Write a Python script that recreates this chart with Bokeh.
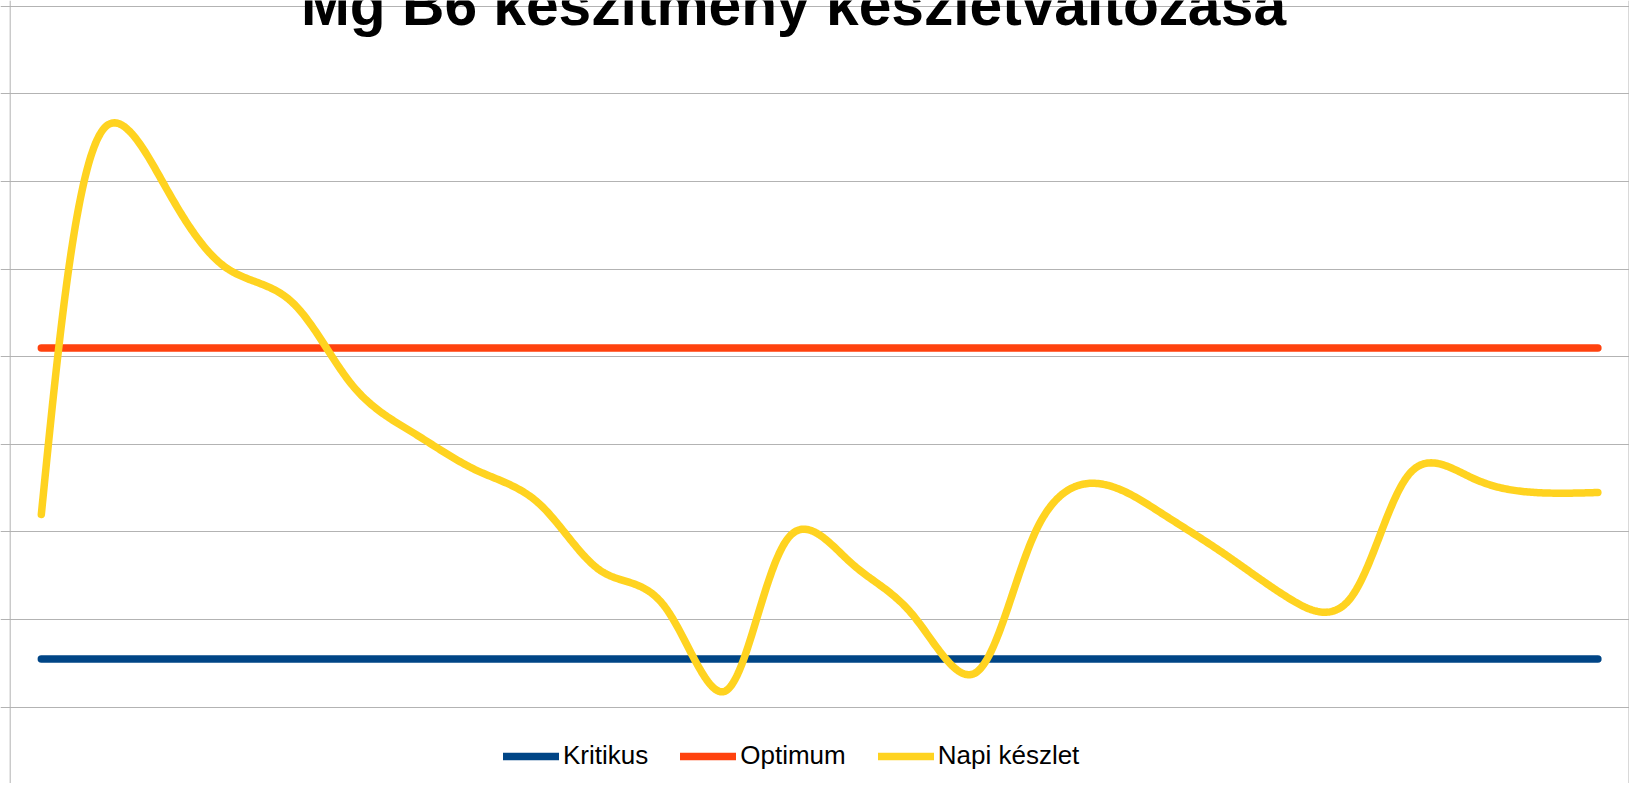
import numpy as np
from bokeh.plotting import figure
from bokeh.models import Range1d, FixedTicker, Span, Label, Legend, LegendItem
from bokeh.embed import file_html
from bokeh.resources import INLINE

# ---------------- data ----------------
title_text = "Mg B6 készítmény készletváltozása"
napok = [1, 2, 3, 4, 5, 6, 7, 8, 9, 10, 11, 12, 13,
         14, 15, 16, 17, 18, 19, 20, 21, 22, 23, 24, 25, 26]
kritikus = [5.5, 5.5, 5.5, 5.5, 5.5, 5.5, 5.5, 5.5, 5.5, 5.5, 5.5, 5.5, 5.5,
            5.5, 5.5, 5.5, 5.5, 5.5, 5.5, 5.5, 5.5, 5.5, 5.5, 5.5, 5.5, 5.5]
optimum = [41.0, 41.0, 41.0, 41.0, 41.0, 41.0, 41.0, 41.0, 41.0, 41.0, 41.0, 41.0, 41.0,
           41.0, 41.0, 41.0, 41.0, 41.0, 41.0, 41.0, 41.0, 41.0, 41.0, 41.0, 41.0, 41.0]
napi_keszlet = [22.0, 66.0, 59.3, 50.0, 46.4, 36.7, 31.2, 27.0, 23.2, 15.5, 11.6, 1.9, 19.35,
                16.5, 10.5, 3.9, 20.5, 25.5, 22.1, 17.5, 12.6, 12.2, 26.85, 26.1, 24.5, 24.5]
grid_ticks = [0, 10, 20, 30, 40, 50, 60, 70, 80]
series_names = ["Kritikus", "Optimum", "Napi készlet"]

# ---------------- style ----------------
C_KRIT = "#004586"
C_OPT = "#ff420e"
C_NAPI = "#ffd320"
C_GRID = "#b3b3b3"
FONT = "Liberation Sans"
LW = 7.5
SPLINE_ALPHA = 0.25

W, H = 1629, 783
n = len(napok)
xi = np.arange(n, dtype=float)

left_px, right_px = 9.7, W - 0.5
px_x = (right_px - left_px) / n
x_start = -0.5 - left_px / px_x
x_end = (n - 0.5) + (W - right_px) / px_x
y_top_px, y_zero_px = 5.7, 706.7
px_y = (y_zero_px - y_top_px) / grid_ticks[-1]
y_end = grid_ticks[-1] + y_top_px / px_y
y_start = -(H - y_zero_px) / px_y


def natural_spline_coeffs(t, v):
    m = len(t)
    h = np.diff(t)
    A = np.zeros((m, m))
    rhs = np.zeros(m)
    A[0, 0] = 1.0
    A[-1, -1] = 1.0
    for i in range(1, m - 1):
        A[i, i - 1] = h[i - 1]
        A[i, i] = 2 * (h[i - 1] + h[i])
        A[i, i + 1] = h[i]
        rhs[i] = 6 * ((v[i + 1] - v[i]) / h[i] - (v[i] - v[i - 1]) / h[i - 1])
    return np.linalg.solve(A, rhs)


def eval_spline(t, v, M, tt):
    out = np.empty_like(tt)
    for k, x in enumerate(tt):
        i = min(max(np.searchsorted(t, x) - 1, 0), len(t) - 2)
        h = t[i + 1] - t[i]
        a = (t[i + 1] - x) / h
        b = (x - t[i]) / h
        out[k] = a * v[i] + b * v[i + 1] + ((a ** 3 - a) * M[i] + (b ** 3 - b) * M[i + 1]) * h * h / 6
    return out


def smooth_spline(x, y, per=40):
    """Parametric natural cubic spline through the data points."""
    x = np.asarray(x, float)
    y = np.asarray(y, float)
    chord = np.sqrt((np.diff(x) * px_x) ** 2 + (np.diff(y) * px_y) ** 2)
    u = np.concatenate([[0.0], np.cumsum(chord ** SPLINE_ALPHA)])
    uu = np.linspace(0, u[-1], (len(x) - 1) * per + 1)
    Mx = natural_spline_coeffs(u, x)
    My = natural_spline_coeffs(u, y)
    return eval_spline(u, x, Mx, uu), eval_spline(u, y, My, uu)


p = figure(width=W, height=H,
           x_range=Range1d(x_start, x_end), y_range=Range1d(y_start, y_end),
           x_axis_location=None, y_axis_location=None,
           toolbar_location=None, output_backend="svg", min_border=0,
           outline_line_color=None, background_fill_color="white",
           border_fill_color="white")
p.xgrid.visible = False
p.ygrid.ticker = FixedTicker(ticks=grid_ticks)
p.ygrid.grid_line_color = C_GRID
p.ygrid.grid_line_width = 1

p.add_layout(Span(location=-0.5, dimension="height", line_color=C_GRID, line_width=1))
p.add_layout(Span(location=n - 0.5, dimension="height", line_color=C_GRID, line_width=1))

r1 = p.line(xi, kritikus, line_color=C_KRIT, line_width=LW, line_cap="round")
r2 = p.line(xi, optimum, line_color=C_OPT, line_width=LW, line_cap="round")
sx, sy = smooth_spline(xi, napi_keszlet)
r3 = p.line(sx, sy, line_color=C_NAPI, line_width=LW, line_cap="round", line_join="round")

legend = Legend(items=[LegendItem(label=series_names[0], renderers=[r1]),
                       LegendItem(label=series_names[1], renderers=[r2]),
                       LegendItem(label=series_names[2], renderers=[r3])],
                orientation="horizontal", location=(503, 12),
                padding=0, margin=0, spacing=32,
                glyph_width=56, glyph_height=30, label_height=30, label_standoff=4,
                label_text_font=FONT, label_text_font_size="26px",
                label_text_color="black",
                border_line_color=None, background_fill_alpha=0)
p.add_layout(legend)

title_x = x_start + 793 / px_x
title_y = y_end - 3.5 / px_y
p.add_layout(Label(x=title_x, y=title_y, text=title_text, text_align="center",
                   text_baseline="alphabetic", text_font=FONT, text_font_style="bold",
                   text_font_size="58.7px", text_color="black"))

open("out.html", "w").write(file_html(p, INLINE))
